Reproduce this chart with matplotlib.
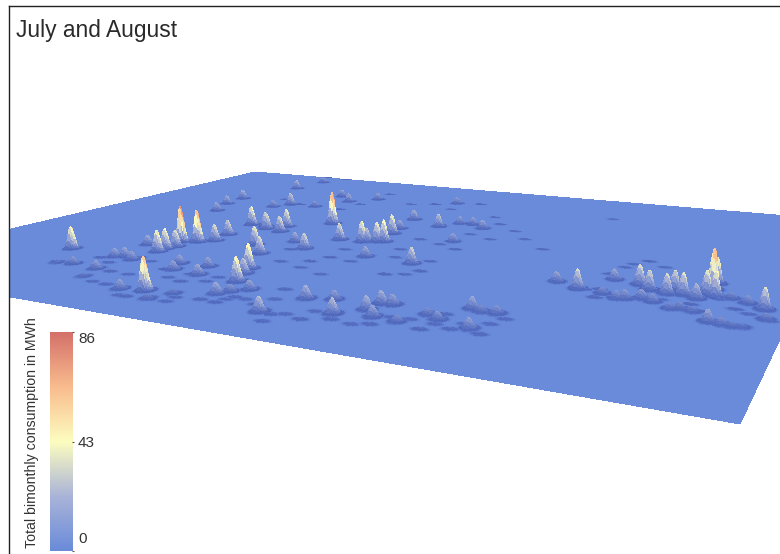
#Bimonthly consumption surface, July and August
import numpy as np
import matplotlib
matplotlib.use('Agg')
import matplotlib.pyplot as plt
from matplotlib.colors import LinearSegmentedColormap
from matplotlib.lines import Line2D
from matplotlib.patches import Rectangle
plt.rcParams['font.family'] = ['Liberation Sans', 'DejaVu Sans']

title = "July and August"
bar_label = "Total bimonthly consumption in MWh"
bar_ticks = [0, 43, 86]
bar_colors = ["#6a8bda", "#aab4d8", "#fdfdc0", "#f9bc8e", "#d4706a"]

site_x = [16.5,38.0,26.2,28.1,27.2,27.0,27.4,29.7,29.0,28.0,31.4,35.7,39.1,42.3,44.5,43.1,14.8,15.2,17.3,38.8,33.6,34.8,37.5,23.5,24.3,25.4,27.2,26.5,35.1,22.4,45.5,46.3,47.7,53.3,41.4,40.3,20.3,27.8,37.7,17.3,18.0,24.5,23.0,33.1,34.1,30.5,28.0,31.2,34.4,28.7,43.8,47.0,47.5,48.7,49.5,48.2,47.6,46.6,51.8,47.0,53.6,57.7,55.5,57.4,57.9,51.4,42.5,39.3,54.9,57.7,60.1,62.4,62.7,63.9,64.1,71.6,73.9,70.1,74.4,68.5,66.9,72.8,91.5,91.4,92.2,91.2,89.1,87.9,87.5,85.5,84.1,81.1,78.6,75.7,97.4,95.6,93.8,90.6,86.9,85.6,84.1,83.3,93.2,94.5,95.5,96.4,89.9,89.0,91.2,98.0,81.5]
site_y = [23.5,10.0,35.0,36.1,27.9,30.0,31.8,37.9,42.5,50.8,49.2,38.4,33.8,25.6,19.1,23.0,70.5,64.7,58.2,19.6,23.5,20.3,23.9,30.9,22.5,23.2,22.2,15.8,9.2,16.5,13.0,14.6,16.5,8.9,10.5,7.2,15.9,11.7,57.7,84.9,93.8,69.3,66.1,52.1,48.2,50.5,81.0,76.9,81.3,69.6,47.5,47.8,48.2,48.9,49.4,55.2,59.2,67.1,63.6,84.3,67.5,65.5,67.7,54.3,38.6,39.3,39.6,43.0,16.3,17.5,12.2,15.5,18.6,18.8,13.3,21.7,14.2,15.7,21.1,17.0,12.8,21.0,43.7,47.0,40.5,41.4,39.6,41.5,39.1,40.0,41.9,42.9,36.3,38.4,37.3,39.1,40.5,38.5,34.6,35.4,34.4,34.0,29.2,28.8,28.5,28.7,33.1,32.5,32.5,33.1,35.4]
site_mwh = [50,65,81,72,48,45,38,38,35,45,38,42,38,52,50,31,25,22,22,22,19,19,19,22,19,20,18,18,18,15,22,15,19,28,8,8,6,6,78,25,15,31,18,42,38,35,20,22,18,15,38,48,31,45,50,45,22,25,31,18,18,22,18,20,35,22,35,22,25,18,28,25,25,20,20,22,19,15,15,12,12,12,81,52,48,44,42,38,38,38,40,22,38,20,40,15,12,28,15,18,18,15,22,12,8,5,12,10,10,12,12]

low_x = [71.8,69.2,19.9,27.8,23.1,25.7,27.4,29.8,33.9,28.9,31.7,30.3,32.5,36.8,37.7,40.6,42.7,42.6,45.4,47.4,47.7,48.1,38.0,41.4,41.6,38.9,36.6,51.5,55.4,52.2,51.0,47.3,46.7,51.0,47.8,51.0,47.3,41.2,43.6,54.8,59.5,60.4,59.4,57.5,53.4,53.1,56.6,59.5,57.7,61.2,58.8,62.3,65.2,44.3,48.1,50.5,56.3,51.4,33.3,34.0,34.0,40.9,25.7,21.3,16.2,19.8,54.8,56.1,58.3,58.2,60.9,63.4,65.0,65.7,67.7,69.9,70.5,72.4,73.0,75.4,75.1,75.8,70.0,52.9,49.5,80.8,80.7,81.3,82.5,84.8,90.5,91.8,92.8,94.8,96.3,98.4,80.0,79.4,81.2,87.4]
low_y = [82.6,55.4,16.3,11.7,21.0,19.2,23.7,22.5,19.8,15.4,15.3,10.2,9.9,6.6,6.6,6.9,7.1,9.1,9.8,9.6,11.3,12.6,19.2,17.1,19.6,15.6,16.5,11.1,5.7,14.1,18.6,29.3,33.0,27.3,36.4,35.6,41.8,38.0,31.0,40.7,32.5,35.0,40.8,31.3,45.6,53.2,51.4,49.4,60.2,58.2,69.8,65.7,60.7,81.5,78.3,85.3,75.0,65.2,69.2,75.2,87.2,79.4,70.1,73.2,99.8,99.3,8.5,9.3,8.4,11.9,10.0,9.4,10.4,13.9,14.2,11.3,13.8,12.9,15.4,12.7,16.7,19.3,17.9,9.6,12.4,37.1,50.0,52.4,55.1,52.6,35.4,32.9,39.3,35.7,34.3,32.5,45.3,36.2,33.1,35.9]
low_mwh = [3,3,4,3,4,4,3,3,4,4,3,3,4,3,4,4,3,3,4,4,3,4,4,3,3,4,3,4,3,3,4,3,4,3,4,3,3,4,4,3,3,4,3,4,3,4,3,4,3,3,4,3,3,4,3,4,3,3,4,3,3,4,4,3,3,3,4,3,4,3,4,3,4,3,3,4,3,4,3,4,3,3,4,3,3,4,3,3,4,3,4,4,3,4,3,3,4,3,4,3]

fig = plt.figure(figsize=(7.8,5.54),dpi=100,facecolor='white')
cmap = LinearSegmentedColormap.from_list("consumption", bar_colors)

# surface from the sites
gx = np.linspace(0,100,700)
gy = np.linspace(0,100,400)
X,Y = np.meshgrid(gx,gy)
Z = np.zeros_like(X)
for sx,sy,v in zip(site_x,site_y,site_mwh):
    Z = np.maximum(Z,v*np.exp(-((X-sx)/0.33)**2/2-((Y-sy)/0.5)**2/2))
for sx,sy,v in zip(low_x,low_y,low_mwh):
    Z = np.maximum(Z,v*np.exp(-((X-sx)/0.35)**2/2-((Y-sy)/0.3)**2/2))
dzdy,dzdx = np.gradient(Z,gy,gx)
colors = cmap(Z/86.0)
dark = 1-0.3*np.tanh(np.hypot(dzdx,dzdy)/3.0)*np.exp(-Z/10.0)
colors[...,0] *= dark
colors[...,1] *= dark
colors[...,2] *= np.sqrt(dark)

ax = fig.add_axes([-114.40/780,-166.09/554,980.19/780,980.19/554],projection='3d')
ax.set_xlim(0,100); ax.set_ylim(0,100); ax.set_zlim(0,112)
ax.set_box_aspect((1,0.8251,0.0655))
ax.view_init(elev=11.237,azim=-62.231,roll=0.162)
ax.set_proj_type('persp',focal_length=0.1915)
ax.set_axis_off()
surf = ax.plot_surface(X,Y,Z,facecolors=colors,rstride=1,cstride=1,shade=False,linewidth=0,antialiased=False)
surf.set_clip_path(Rectangle((9/780,0),771/780,548/554,transform=fig.transFigure))

cb = fig.add_axes([50/780,3/554,22/780,219/554])
cb.imshow(np.linspace(0,86,256)[:,None],origin='lower',aspect='auto',cmap=cmap,extent=[0,1,0,86])
cb.set_xticks([])
cb.yaxis.tick_right()
cb.set_yticks(bar_ticks)
cb.set_yticklabels([])
cb.tick_params(axis='y',length=1.5,width=0.8,color='#555555')
for sp in cb.spines.values():
    sp.set_visible(False)
fig.text(78/780,1-339/554,str(bar_ticks[2]),fontsize=11,color='#333333',va='center')
fig.text(78/780,1-443/554,str(bar_ticks[1]),fontsize=11,color='#333333',va='center')
fig.text(78/780,1-539/554,str(bar_ticks[0]),fontsize=11,color='#333333',va='center')
fig.text(32.5/780,1-433/554,bar_label,rotation=90,fontsize=10.2,color='#333333',va='center',ha='center')
fig.text(16/780,1-30/554,title,fontsize=16.4,color='#2a2a2a',va='center')

fig.add_artist(Line2D([9/780,9/780],[0,1-6/554],color='#222222',lw=1))
fig.add_artist(Line2D([9/780,1],[1-6/554,1-6/554],color='#222222',lw=1))
fig.savefig('out.png',dpi=100)
